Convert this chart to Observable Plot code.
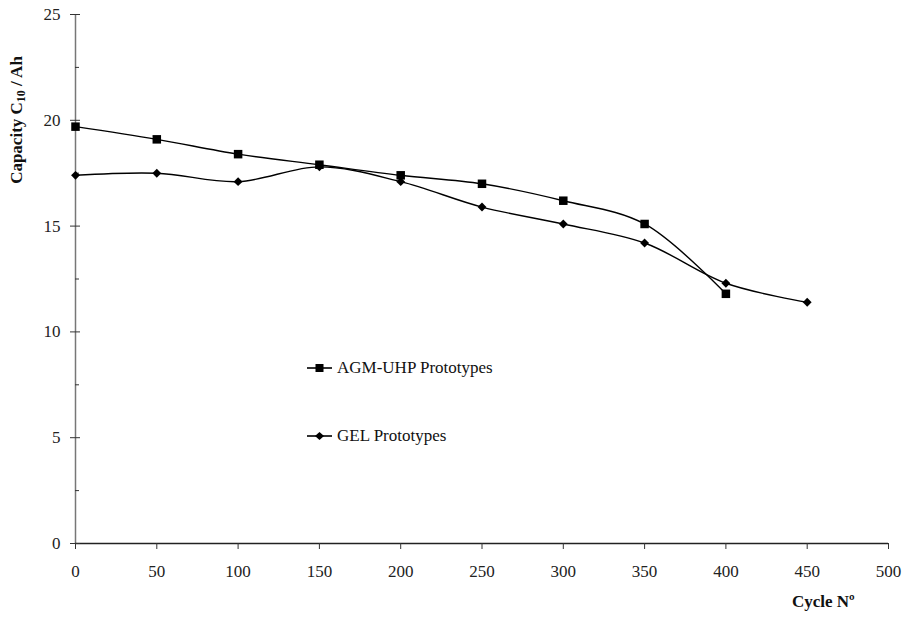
<!DOCTYPE html>
<html><head><meta charset="utf-8">
<script src="https://cdn.jsdelivr.net/npm/d3@7"></script>
<script src="https://cdn.jsdelivr.net/npm/@observablehq/plot@0.6"></script>
<style>
body{margin:0;background:#fff;}
#wrap{position:relative;width:908px;height:617px;font-family:"Liberation Serif","Times New Roman",serif;color:#111;}
.leg{position:absolute;font-size:17px;display:flex;align-items:center;white-space:nowrap;}
.leg svg{margin-right:4px;}
.ttl{position:absolute;font-weight:bold;font-size:17px;white-space:nowrap;}
</style></head><body><div id="wrap"></div>
<script>
const cycles = [0, 50, 100, 150, 200, 250, 300, 350, 400, 450];
const agmValues = [19.7, 19.1, 18.4, 17.9, 17.4, 17.0, 16.2, 15.1, 11.8];
const gelValues = [17.4, 17.5, 17.1, 17.8, 17.1, 15.9, 15.1, 14.2, 12.3, 11.4];
const seriesNames = ["AGM-UHP Prototypes", "GEL Prototypes"];
const xTicks = [0, 50, 100, 150, 200, 250, 300, 350, 400, 450, 500];
const yTicks = [0, 5, 10, 15, 20, 25];
const yMinorTicks = [2.5, 7.5, 12.5, 17.5, 22.5];

const agmRows = agmValues.map((v, i) => ({cycle: cycles[i], cap: v, series: seriesNames[0]}));
const gelRows = gelValues.map((v, i) => ({cycle: cycles[i], cap: v, series: seriesNames[1]}));

const chart = Plot.plot({
  width: 908,
  height: 617,
  marginLeft: 75,
  marginRight: 20,
  marginTop: 14,
  marginBottom: 74,
  style: {fontFamily: '"Liberation Serif","Times New Roman",serif', fontSize: "17px", color: "#111", background: "#fff"},
  x: {domain: [0, 500]},
  y: {domain: [0, 25]},
  marks: [
    Plot.ruleX([0], {stroke: "#777", strokeWidth: 1.5}),
    Plot.ruleY([0], {stroke: "#222", strokeWidth: 1.5}),
    Plot.axisY({ticks: yMinorTicks, tickSize: 4, dx: 4, text: null, label: null, stroke: "#333"}),
    Plot.axisY({ticks: yTicks, tickSize: 10, dx: 5, text: null, label: null, stroke: "#333"}),
    Plot.axisY({ticks: yTicks, tickSize: 0, tickPadding: 15, label: null, fontSize: 17, fill: "#222"}),
    Plot.axisX({ticks: xTicks, tickSize: 6, tickPadding: 15, label: null, fontSize: 17, fill: "#222", stroke: "#333"}),
    Plot.line(agmRows, {x: "cycle", y: "cap", stroke: "#000", strokeWidth: 1.4, curve: "catmull-rom"}),
    Plot.line(gelRows, {x: "cycle", y: "cap", stroke: "#000", strokeWidth: 1.4, curve: "catmull-rom"}),
    Plot.dot(agmRows, {x: "cycle", y: "cap", symbol: "square", r: 4.8, fill: "#000", stroke: "none"}),
    Plot.dot(gelRows, {x: "cycle", y: "cap", symbol: "diamond2", r: 4, fill: "#000", stroke: "none"})
  ]
});

const wrap = document.getElementById("wrap");
wrap.appendChild(chart);

function legendItem(name, symbol, left, top) {
  const d = document.createElement("div");
  d.className = "leg";
  d.style.left = left + "px";
  d.style.top = top + "px";
  const shape = symbol === "square"
    ? '<rect x="8.5" y="2" width="8" height="8" fill="#000"/>'
    : '<path d="M12.5,2 L17,6 L12.5,10 L8,6 Z" fill="#000"/>';
  d.innerHTML = '<svg width="26" height="12"><line x1="0" y1="6" x2="25" y2="6" stroke="#000" stroke-width="1.6"/>' + shape + '</svg><span>' + name + '</span>';
  wrap.appendChild(d);
}
legendItem(seriesNames[0], "square", 307, 358);
legendItem(seriesNames[1], "diamond", 307, 426);

const yl = document.createElement("div");
yl.className = "ttl";
yl.innerHTML = "Capacity C<sub style='font-size:12px;vertical-align:-3px'>10</sub> / Ah";
yl.style.left = "18px";
yl.style.top = "120px";
yl.style.transform = "translate(-50%,-50%) rotate(-90deg)";
wrap.appendChild(yl);

const xl = document.createElement("div");
xl.className = "ttl";
xl.innerHTML = "Cycle N\u00ba";
xl.style.left = "792px";
xl.style.top = "592px";
wrap.appendChild(xl);
</script>
</body></html>
